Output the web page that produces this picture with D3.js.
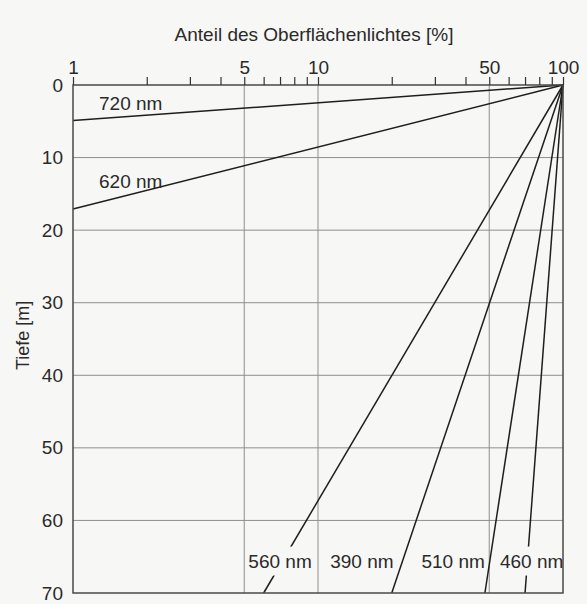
<!DOCTYPE html>
<html>
<head>
<meta charset="utf-8">
<script src="https://cdn.jsdelivr.net/npm/d3@7/dist/d3.min.js"></script>
<style>
  html, body { margin: 0; padding: 0; background: #f7f7f5; }
  svg { display: block; }
  text { font-family: "Liberation Sans", Arial, Helvetica, sans-serif; fill: #2a2a2a; }
</style>
</head>
<body>
<script>
// ---- Data ----
const wavelengths = ["720 nm", "620 nm", "560 nm", "390 nm", "510 nm", "460 nm"];
// end point of each line (start at 100 % at the surface)
const endPercent = [1, 1, 6, 20, 48, 70];
const endDepth   = [4.9, 17.1, 70, 70, 70, 70];
const xTickLabels = [1, 5, 10, 50, 100];
const xMinorTicks = [2, 3, 4, 6, 7, 8, 9, 20, 30, 40, 60, 70, 80, 90];
const yTickLabels = [0, 10, 20, 30, 40, 50, 60, 70];
const xTitle = "Anteil des Oberflächenlichtes [%]";
const yTitle = "Tiefe [m]";

// label anchor (percent, depth) for each curve label
const labelAt = [[1.72, 2.6], [1.72, 13.3], [7.0, 65.6], [15.1, 65.6], [35.6, 65.6], [74.5, 65.6]];

const W = 587, H = 604;
const m = { left: 73, right: 24, top: 85, bottom: 11 };
const FS = 19;

const svg = d3.select("body").append("svg").attr("width", W).attr("height", H);

const x = d3.scaleLog().domain([1, 100]).range([m.left, W - m.right]);
const y = d3.scaleLinear().domain([0, 70]).range([m.top, H - m.bottom]);

// grid
const grid = svg.append("g").attr("stroke", "#8e8e8e").attr("stroke-width", 1);
grid.selectAll("line.h").data(yTickLabels.slice(1, -1)).join("line")
  .attr("x1", x(1)).attr("x2", x(100)).attr("y1", d => y(d)).attr("y2", d => y(d));
grid.selectAll("line.v").data([5, 10, 50]).join("line")
  .attr("y1", y(0)).attr("y2", y(70)).attr("x1", d => x(d)).attr("x2", d => x(d));

// data lines
const lineGen = d3.line().x(d => x(d[0])).y(d => y(d[1]));
svg.append("g").selectAll("path").data(wavelengths).join("path")
  .attr("d", (d, i) => lineGen([[100, 0], [endPercent[i], endDepth[i]]]))
  .attr("fill", "none").attr("stroke", "#1e1e1e").attr("stroke-width", 1.5);

// curve labels
const lab = svg.append("g");
wavelengths.forEach((w, i) => {
  const g = lab.append("g");
  const t = g.append("text").attr("x", x(labelAt[i][0])).attr("y", y(labelAt[i][1]))
    .attr("text-anchor", "middle").attr("dominant-baseline", "central")
    .attr("font-size", FS).text(w);
  if (i >= 2) {
    const b = t.node().getBBox();
    g.insert("rect", "text").attr("x", b.x).attr("y", b.y - 4)
      .attr("width", b.width).attr("height", b.height + 8).attr("fill", "#f7f7f5");
  }
});

// frame
svg.append("rect").attr("x", x(1)).attr("y", y(0)).attr("width", x(100) - x(1)).attr("height", y(70) - y(0))
  .attr("fill", "none").attr("stroke", "#4a4a4a").attr("stroke-width", 1.5);

// top axis
const xAxis = d3.axisTop(x).tickValues(xTickLabels.concat(xMinorTicks))
  .tickFormat(d => xTickLabels.includes(d) ? d : "").tickSize(8).tickPadding(3);
const gx = svg.append("g").attr("transform", `translate(0,${y(0)})`).call(xAxis);
gx.select(".domain").remove();
gx.selectAll(".tick line").attr("stroke", "#333").attr("stroke-width", 1.2);
gx.selectAll(".tick text").attr("font-size", FS).attr("fill", "#2a2a2a")
  .attr("font-family", '"Liberation Sans", Arial, sans-serif');

// left axis labels
const yAxis = d3.axisLeft(y).tickValues(yTickLabels).tickSize(0).tickPadding(10);
const gy = svg.append("g").attr("transform", `translate(${x(1)},0)`).call(yAxis);
gy.select(".domain").remove();
gy.selectAll(".tick text").attr("font-size", FS).attr("fill", "#2a2a2a")
  .attr("font-family", '"Liberation Sans", Arial, sans-serif');

// titles
svg.append("text").attr("x", 314).attr("y", 41).attr("text-anchor", "middle")
  .attr("font-size", FS).text(xTitle);
svg.append("text").attr("transform", `translate(29,${y(34.5)}) rotate(-90)`)
  .attr("text-anchor", "middle").attr("font-size", 18).text(yTitle);
</script>
</body>
</html>
